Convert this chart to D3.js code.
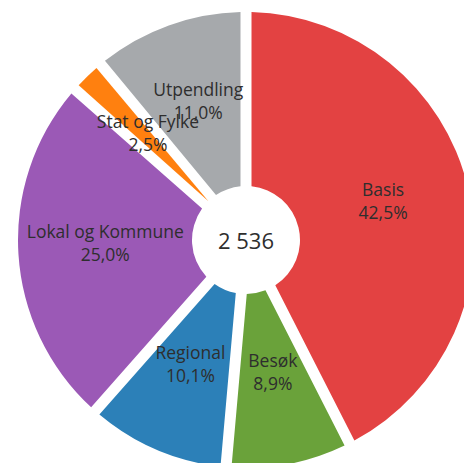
<!DOCTYPE html>
<html>
<head>
<meta charset="utf-8">
<script src="https://cdn.jsdelivr.net/npm/d3@7"></script>
<style>
  html, body { margin: 0; padding: 0; background: #fff; overflow: hidden; }
  text { font-family: "Open Sans", sans-serif; }
</style>
</head>
<body>
<div id="chart"></div>
<script>
// Width and height
var w = 464;
var h = 463;

// slice data, clockwise from 12 o'clock
var categories = ["Basis", "Besøk", "Regional", "Lokal og Kommune", "Stat og Fylke", "Utpendling"];
var shares = [42.5, 8.9, 10.1, 25.0, 2.5, 11.0];
var sliceColors = ["#e34242", "#6aa23a", "#2c80b8", "#9b59b6", "#ff800f", "#a6a9ac"];
var total = "2 536";

var cx = 246, cy = 240;
var innerR = 54, outerR = 228;

var svg = d3.select("#chart")
  .append("svg")
  .attr("width", w)
  .attr("height", h)
  .style("display", "block");

var g = svg.append("g")
  .attr("transform", "translate(" + cx + "," + cy + ")");

var pie = d3.pie()
  .sort(null)
  .value(function(d) { return d; });

var arc = d3.arc()
  .innerRadius(innerR)
  .outerRadius(outerR)
  .padAngle(0.047);

var arcs = pie(shares);

g.selectAll("path")
  .data(arcs)
  .enter()
  .append("path")
  .attr("d", arc)
  .style("fill", function(d, i) { return sliceColors[i]; });

// labels at the centroid of each slice
var labels = g.selectAll(".lbl")
  .data(arcs)
  .enter()
  .append("text")
  .attr("class", "lbl")
  .attr("text-anchor", "middle")
  .attr("transform", function(d) {
    var c = arc.centroid(d);
    return "translate(" + c[0] + "," + c[1] + ")";
  })
  .style("font-size", "17.5px")
  .style("fill", "#2e2e2e");

labels.append("tspan")
  .attr("x", 0)
  .attr("y", -11)
  .text(function(d, i) { return categories[i]; });

labels.append("tspan")
  .attr("x", 0)
  .attr("y", 12)
  .text(function(d) { return d.data.toFixed(1).replace(".", ",") + "%"; });

// total in the middle
g.append("text")
  .attr("text-anchor", "middle")
  .attr("y", 9)
  .style("font-size", "22px")
  .style("fill", "#2e2e2e")
  .text(total);
</script>
</body>
</html>
